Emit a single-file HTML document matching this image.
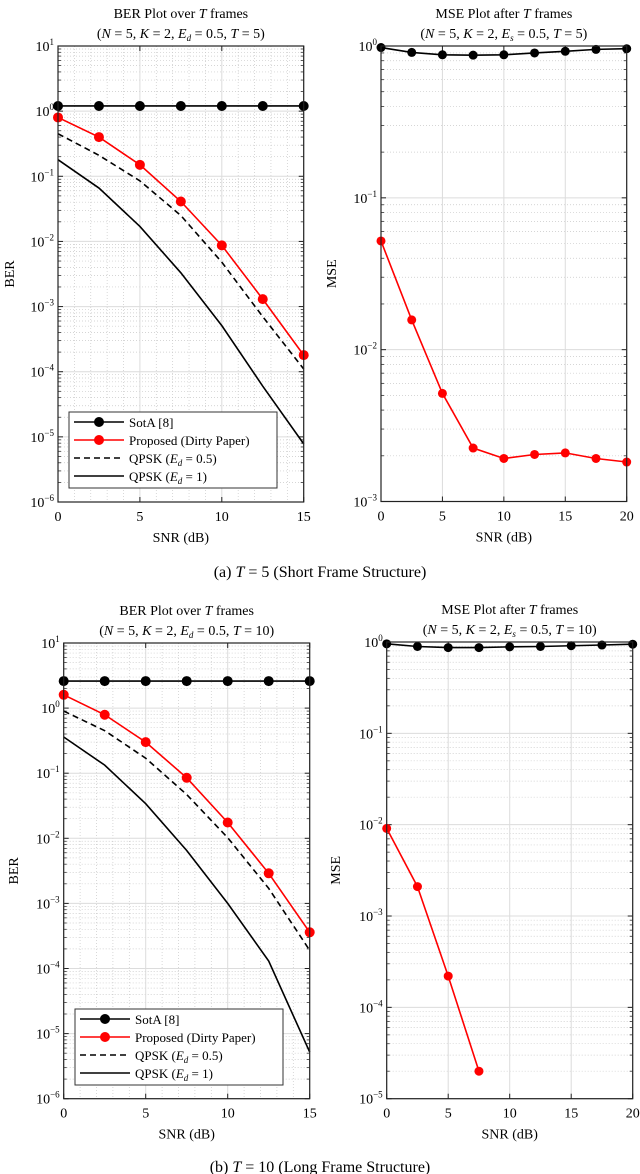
<!DOCTYPE html>
<html><head><meta charset="utf-8">
<style>
html,body{margin:0;padding:0;background:#fff;}
svg{display:block;font-family:"Liberation Serif",serif;}
</style></head>
<body>
<svg id="fig" width="640" height="1174" viewBox="0 0 640 1174" xmlns="http://www.w3.org/2000/svg">
<text x="320" y="577" text-anchor="middle" font-size="16">(a) <tspan font-style="italic">T</tspan> = 5 (Short Frame Structure)</text>
<text x="320" y="1172" text-anchor="middle" font-size="16">(b) <tspan font-style="italic">T</tspan> = 10 (Long Frame Structure)</text>
</svg>
<script>
// ---- data ----
const snrBer = [0, 2.5, 5, 7.5, 10, 12.5, 15];
const snrMse = [0, 2.5, 5, 7.5, 10, 12.5, 15, 17.5, 20];
const berAsota = [1.2, 1.2, 1.2, 1.2, 1.2, 1.2, 1.2];
const berAprop = [0.8, 0.4, 0.15, 0.041, 0.0087, 0.0013, 0.00018];
const berAq05 = [0.45, 0.21, 0.085, 0.025, 0.0048, 0.0007, 0.00011];
const berAq1 = [0.18, 0.066, 0.017, 0.0033, 0.00051, 0.00006, 0.0000078];
const mseAsota = [0.977, 0.907, 0.875, 0.87, 0.875, 0.9, 0.923, 0.95, 0.96];
const mseAprop = [0.052, 0.0157, 0.00515, 0.00225, 0.00192, 0.00204, 0.00209, 0.00192, 0.00182];
const berBsota = [2.6, 2.6, 2.6, 2.6, 2.6, 2.6, 2.6];
const berBprop = [1.6, 0.79, 0.3, 0.085, 0.0175, 0.0029, 0.00036];
const berBq05 = [0.9, 0.45, 0.17, 0.047, 0.0102, 0.0017, 0.00019];
const berBq1 = [0.36, 0.133, 0.034, 0.0065, 0.001, 0.00013, 0.0000052];
const mseBsota = [0.955, 0.893, 0.869, 0.869, 0.885, 0.893, 0.91, 0.927, 0.946];
const mseBprop = [0.0091, 0.0021, 0.00022, 0.00002];
const berXTicks = [0, 5, 10, 15];
const mseXTicks = [0, 5, 10, 15, 20];

const NS = "http://www.w3.org/2000/svg";
const svg = document.getElementById('fig');
function mk(tag, attrs, parent) {
  const e = document.createElementNS(NS, tag);
  for (const k in attrs) e.setAttribute(k, attrs[k]);
  (parent || svg).appendChild(e);
  return e;
}

function plot(cfg) {
  const g = mk('g', {});
  
  
  const L = cfg.x0, R = cfg.x1, T = cfg.yTop, B = cfg.yBot;
  const xs = v => L + (v - cfg.xmin) / (cfg.xmax - cfg.xmin) * (R - L);
  const ys = v => T + (cfg.eTop - Math.log10(v)) / (cfg.eTop - cfg.eBot) * (B - T);
  // minor horizontal grid
  for (let e = cfg.eBot; e < cfg.eTop; e++) {
    for (let m = 2; m <= 9; m++) {
      const y = ys(m * Math.pow(10, e));
      const ln = mk('line', {x1: L, x2: R, y1: y, y2: y, stroke: '#c8c8c8', 'stroke-width': 0.7, 'stroke-dasharray': '1,2'}, g);
      
      
      mk('line', {x1: L, x2: L + 3, y1: y, y2: y, stroke: '#333', 'stroke-width': 0.8}, g);
      mk('line', {x1: R - 3, x2: R, y1: y, y2: y, stroke: '#333', 'stroke-width': 0.8}, g);
    }
  }
  if (cfg.minorX) {
    for (let v = cfg.xmin; v <= cfg.xmax; v += 1) {
      if (v % 5 === 0) continue;
      const x = xs(v);
      const ln = mk('line', {x1: x, x2: x, y1: T, y2: B, stroke: '#c8c8c8', 'stroke-width': 0.7, 'stroke-dasharray': '1,2'}, g);
      
      
    }
  }
  // major grid + labels
  for (let e = cfg.eBot; e <= cfg.eTop; e++) {
    const y = ys(Math.pow(10, e));
    const ln = mk('line', {x1: L, x2: R, y1: y, y2: y, stroke: '#dcdcdc', 'stroke-width': 1}, g);
    
    
    mk('line', {x1: L, x2: L + 5, y1: y, y2: y, stroke: '#222', 'stroke-width': 1}, g);
    mk('line', {x1: R - 5, x2: R, y1: y, y2: y, stroke: '#222', 'stroke-width': 1}, g);
    const t = mk('text', {x: L - 4, y: y + 5, 'text-anchor': 'end', 'font-size': 14}, g);
    
    
    t.appendChild(document.createTextNode('10'));
    const sp = mk('tspan', {dy: -6, 'font-size': 9}, t);
    sp.textContent = (e < 0 ? '\u2212' + (-e) : String(e));
  }
  cfg.xticks.forEach(v => {
    const x = xs(v);
    const ln = mk('line', {x1: x, x2: x, y1: T, y2: B, stroke: '#dcdcdc', 'stroke-width': 1}, g);
    
    
    mk('line', {x1: x, x2: x, y1: B - 5, y2: B, stroke: '#222', 'stroke-width': 1}, g);
    mk('line', {x1: x, x2: x, y1: T, y2: T + 5, stroke: '#222', 'stroke-width': 1}, g);
    const t = mk('text', {x: x, y: B + 19, 'text-anchor': 'middle', 'font-size': 14}, g);
    
    
    t.textContent = String(v);
  });
  // series
  cfg.series.forEach(s => {
    const pts = s.y.map((v, i) => xs(s.x[i]).toFixed(2) + ',' + ys(v).toFixed(2)).join(' ');
    const pl = mk('polyline', {points: pts, fill: 'none', stroke: s.color, 'stroke-width': 1.6, 'stroke-dasharray': s.dash || 'none'}, g);
    
    
    if (s.marker) {
      s.y.forEach((v, i) => {
        const c = mk('circle', {cx: xs(s.x[i]), cy: ys(v), r: cfg.r, fill: s.color}, g);
        
        
      });
    }
  });
  // frame
  const fr = mk('rect', {x: L, y: T, width: R - L, height: B - T, fill: 'none', stroke: '#222', 'stroke-width': 1.2}, g);
  
  
  // titles
  const cx = (L + R) / 2;
  const t1 = mk('text', {x: cx, y: T - 28, 'text-anchor': 'middle', 'font-size': 14}, g);
  
  
  t1.innerHTML = cfg.title;
  const t2 = mk('text', {x: cx, y: T - 8, 'text-anchor': 'middle', 'font-size': 14}, g);
  
  
  t2.innerHTML = cfg.subtitle;
  const xl = mk('text', {x: cx, y: B + 40, 'text-anchor': 'middle', 'font-size': 14}, g);
  
  
  xl.textContent = 'SNR (dB)';
  const yl = mk('text', {x: cfg.ylabX, y: (T + B) / 2, 'text-anchor': 'middle', 'font-size': 14, transform: 'rotate(-90 ' + cfg.ylabX + ' ' + (T + B) / 2 + ')'}, g);
  
  
  yl.textContent = cfg.ylabel;
  // legend
  if (cfg.legend) {
    const lg = cfg.legend;
    const lgG = mk('g', {}, g);
    
    
    mk('rect', {x: lg.x, y: lg.y, width: lg.w, height: lg.h, fill: '#fff', stroke: '#333', 'stroke-width': 1}, lgG);
    const labels = ['SotA [8]', 'Proposed (Dirty Paper)', 'QPSK (<tspan font-style="italic">E</tspan><tspan font-size="9" font-style="italic" dy="3">d</tspan><tspan dy="-3"> = 0.5)</tspan>', 'QPSK (<tspan font-style="italic">E</tspan><tspan font-size="9" font-style="italic" dy="3">d</tspan><tspan dy="-3"> = 1)</tspan>'];
    cfg.series.forEach((s, i) => {
      const yy = lg.y + 10 + i * 18;
      const e = mk('g', {}, lgG);
      
      
      mk('line', {x1: lg.x + 5, x2: lg.x + 55, y1: yy, y2: yy, stroke: s.color, 'stroke-width': 1.6, 'stroke-dasharray': s.dash || 'none'}, e);
      if (s.marker) mk('circle', {cx: lg.x + 30, cy: yy, r: 5, fill: s.color}, e);
      const t = mk('text', {x: lg.x + 60, y: yy + 5, 'font-size': 13}, e);
      t.innerHTML = labels[i];
    });
  }
}

const berSub = (T) => '(<tspan font-style="italic">N</tspan> = 5, <tspan font-style="italic">K</tspan> = 2, <tspan font-style="italic">E</tspan><tspan font-size="9" font-style="italic" dy="3">d</tspan><tspan dy="-3"> = 0.5, </tspan><tspan font-style="italic">T</tspan> = ' + T + ')';
const mseSub = (T) => '(<tspan font-style="italic">N</tspan> = 5, <tspan font-style="italic">K</tspan> = 2, <tspan font-style="italic">E</tspan><tspan font-size="9" font-style="italic" dy="3">s</tspan><tspan dy="-3"> = 0.5, </tspan><tspan font-style="italic">T</tspan> = ' + T + ')';
const berTitle = 'BER Plot over <tspan font-style="italic">T</tspan> frames';
const mseTitle = 'MSE Plot after <tspan font-style="italic">T</tspan> frames';

plot({name: 'ber-plot-t5', x0: 58, x1: 303.7, yTop: 46, yBot: 502, xmin: 0, xmax: 15, eTop: 1, eBot: -6, xticks: berXTicks, minorX: true, r: 5,
  title: berTitle, subtitle: berSub(5), ylabel: 'BER', ylabX: 14,
  legend: {x: 69, y: 412, w: 208, h: 76},
  series: [
    {name: 'sota', x: snrBer, y: berAsota, color: '#000', marker: true},
    {name: 'proposed', x: snrBer, y: berAprop, color: '#f00', marker: true},
    {name: 'qpsk-05', x: snrBer, y: berAq05, color: '#000', dash: '6,4'},
    {name: 'qpsk-1', x: snrBer, y: berAq1, color: '#000'}]});
plot({name: 'mse-plot-t5', x0: 381, x1: 626.7, yTop: 46, yBot: 501.5, xmin: 0, xmax: 20, eTop: 0, eBot: -3, xticks: mseXTicks, minorX: false, r: 4.5,
  title: mseTitle, subtitle: mseSub(5), ylabel: 'MSE', ylabX: 336,
  series: [
    {name: 'mse-sota', x: snrMse, y: mseAsota, color: '#000', marker: true},
    {name: 'mse-proposed', x: snrMse, y: mseAprop, color: '#f00', marker: true}]});
plot({name: 'ber-plot-t10', x0: 63.7, x1: 309.7, yTop: 643, yBot: 1098.7, xmin: 0, xmax: 15, eTop: 1, eBot: -6, xticks: berXTicks, minorX: true, r: 5,
  title: berTitle, subtitle: berSub(10), ylabel: 'BER', ylabX: 18,
  legend: {x: 75, y: 1009, w: 208, h: 76},
  series: [
    {name: 'sota', x: snrBer, y: berBsota, color: '#000', marker: true},
    {name: 'proposed', x: snrBer, y: berBprop, color: '#f00', marker: true},
    {name: 'qpsk-05', x: snrBer, y: berBq05, color: '#000', dash: '6,4'},
    {name: 'qpsk-1', x: snrBer, y: berBq1, color: '#000'}]});
plot({name: 'mse-plot-t10', x0: 386.7, x1: 632.7, yTop: 642, yBot: 1098.7, xmin: 0, xmax: 20, eTop: 0, eBot: -5, xticks: mseXTicks, minorX: false, r: 4.5,
  title: mseTitle, subtitle: mseSub(10), ylabel: 'MSE', ylabX: 340,
  series: [
    {name: 'mse-sota', x: snrMse, y: mseBsota, color: '#000', marker: true},
    {name: 'mse-proposed', x: snrMse.slice(0, mseBprop.length), y: mseBprop, color: '#f00', marker: true}]});
</script>
</body></html>
